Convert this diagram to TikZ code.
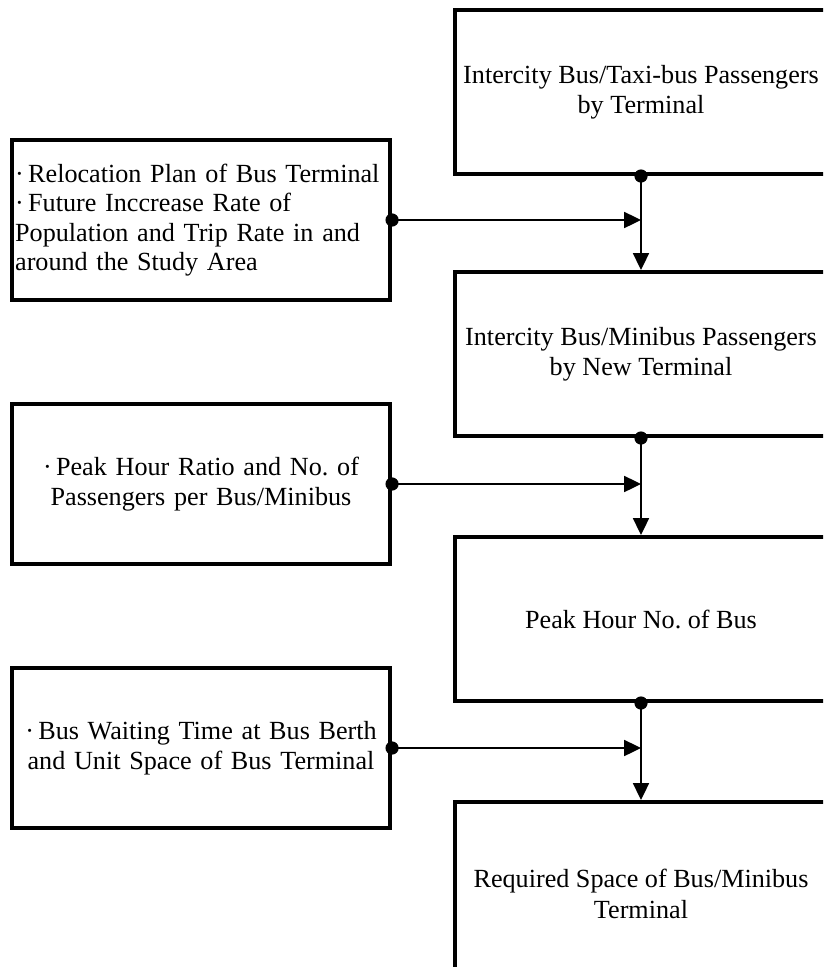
\documentclass[tikz,border=0pt]{standalone}
\usepackage{fontspec}
\setmainfont{Liberation Serif}
\usetikzlibrary{arrows.meta}
\frenchspacing
\tikzset{
  stage/.style={draw, line width=0.1cm, minimum width=9.3cm, minimum height=4.1cm,
    align=center, font=\fontsize{18.6}{21.5}\selectfont},
  factor/.style={draw, line width=0.1cm, minimum height=4cm, inner xsep=0.08cm,
    text width=9.29cm, font=\fontsize{18.6}{21}\selectfont},
  link/.style={line width=1.2pt, -{Triangle[length=0.42cm, width=0.4cm]}},
  joint/.style={circle, fill, inner sep=0pt, minimum size=0.33cm},
}
\begin{document}
\begin{tikzpicture}[x=0.025cm, y=-0.025cm]
  \useasboundingbox (0,0) rectangle (823,967);
  \clip (0,0) rectangle (823,967);
  % main chain
  \node[stage] (pax) at (641,92) {Intercity Bus/Taxi-bus Passengers\\by Terminal};
  \node[stage] (newpax) at (641,354) {Intercity Bus/Minibus Passengers\\by New Terminal};
  \node[stage] (peak) at (641,619) {Peak Hour No. of Bus};
  \node[stage, minimum height=4.6cm] (space) at (641,894) {Required Space of Bus/Minibus\\Terminal};
  % input factors
  \node[factor, align=left] (reloc) at (201,220) {·\,Relocation Plan of Bus Terminal\\
    ·\,Future Inccrease Rate of\\Population and Trip Rate in and\\around the Study Area};
  \node[factor, align=center] (ratio) at (201,484) {·\,Peak Hour Ratio and No. of\\
    Passengers per Bus/Minibus};
  \node[factor, align=center] (wait) at (201,748) {·\,Bus Waiting Time at Bus Berth\\
    and Unit Space of Bus Terminal};
  \begin{scope}
    \draw[link] (pax.south) -- (newpax.north);
    \draw[link] (newpax.south) -- (peak.north);
    \draw[link] (peak.south) -- (space.north);
    \draw[link] (reloc.east) -- (reloc.east -| pax.south);
    \draw[link] (ratio.east) -- (ratio.east -| pax.south);
    \draw[link] (wait.east) -- (wait.east -| pax.south);
  \end{scope}
  \foreach \n in {pax.south, newpax.south, peak.south, reloc.east, ratio.east, wait.east}
    \node[joint] at (\n) {};
\end{tikzpicture}
\end{document}
